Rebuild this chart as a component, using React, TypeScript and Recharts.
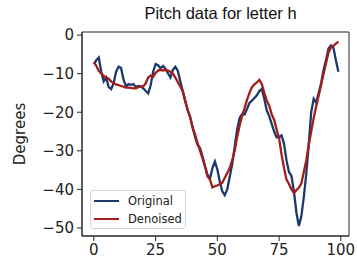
import { Line, LineChart, XAxis, YAxis, ReferenceArea } from "recharts"

const original = [
  -7.5, -6.5, -5.8, -9.5, -12, -11, -13.5, -14, -12.5, -9.5,
  -8.2, -8.5, -11.5, -13.3, -12.7, -12.9, -12.7, -13.5, -13.2, -13.3,
  -13.8, -14.5, -15.1, -13, -9.5, -7.5, -7.8, -8.6, -8, -8.8,
  -9.9, -11, -9, -8.2, -9.3, -12, -14.5, -17.2, -19.5, -21.3,
  -24, -26.5, -28.5, -29.3, -31.5, -34, -36.2, -37.3, -34.5, -32.8,
  -34.8, -38, -40.5, -41.5, -40, -36.8, -33.5, -29, -24.5, -21.5,
  -20.5, -20.6, -19.2, -17.6, -17, -16.3, -15.6, -14.5, -14, -16.5,
  -19.5, -21, -23, -25, -26.5, -26.5, -26, -28.2, -32.5, -35.5,
  -36.5, -40.5, -46, -49.5, -47, -42, -36, -28.5, -20, -16.5,
  -17.5, -15, -12.5, -9, -6.5, -3.5, -2.7, -3.3, -6.5, -9.5,
]

const denoised = [
  -7, -8, -9.3, -10, -10.6, -11, -11.3, -12, -12.5, -12.8,
  -13, -13.2, -13.4, -13.6, -13.6, -13.7, -13.8, -13.8, -13.5, -13.3,
  -13.3, -12.5, -11, -10.5, -10.8, -9.8, -9.2, -9, -9.2, -9,
  -9.2, -9.5, -10, -11, -12.2, -13.3, -14.6, -17, -19.5, -21.3,
  -24, -25.8, -28, -30, -32, -34, -36.6, -37.5, -39.5, -39.2,
  -39, -38.6, -38.3, -37, -35.8, -34.5, -32.5, -30, -26.5, -23.5,
  -21, -19, -16.8, -15, -13.5, -12.8, -12.3, -11.6, -12.7, -15,
  -17, -18.3, -20.5, -22, -24.5, -26.8, -31, -34.5, -37.5, -38.6,
  -40, -40.9, -40.2, -39.6, -38.5, -35.5, -32.5, -28.5, -25, -21.5,
  -18.5, -15.8, -13, -10, -7.3, -4.5, -3.2, -2.8, -2.2, -1.7,
]

const xTicks = [0, 25, 50, 75, 100]
const yTicks = [0, -10, -20, -30, -40, -50]

const data = original.map((v, i) => ({ x: i, original: v, denoised: denoised[i] }))

const BLUE = "#1b3a6b"
const RED = "#a51d1a"
const AXIS = "#262626"
const X_DOMAIN = [-4.8, 103.3]
const Y_DOMAIN = [-52.1, 0.8]

const fmt = (v: number) => String(v).replace("-", "\u2212")

const series = [
  { name: "Original", color: BLUE },
  { name: "Denoised", color: RED },
]

const LegendBox = () => (
  <div
    style={{
      position: "absolute",
      left: 90,
      top: 190,
      width: 96,
      height: 39,
      border: "1px solid #d5d5d5",
      borderRadius: 3,
      background: "rgba(255,255,255,0.8)",
      fontFamily: "DejaVu Sans",
      fontSize: 11.5,
      color: "#222",
      boxSizing: "border-box",
      padding: "1px 0 0 3px",
    }}
  >
    {series.map((it) => (
      <div key={it.name} style={{ display: "flex", alignItems: "center", height: 18 }}>
        <div style={{ width: 25, height: 2, background: it.color, marginRight: 9 }} />
        <span>{it.name}</span>
      </div>
    ))}
  </div>
)

export default function App() {
  return (
    <div style={{ position: "absolute", left: 0, top: 0, width: 357, height: 269, background: "#fff" }}>
      <div
        style={{
          position: "absolute",
          left: 82,
          width: 277,
          top: 4,
          textAlign: "center",
          fontFamily: "Liberation Sans",
          fontSize: 16.5,
          color: "#111",
        }}
      >
        Pitch data for letter h
      </div>
      <LineChart width={357} height={269} data={data} margin={{ top: 32, right: 8, bottom: 0, left: 0 }}>
        <XAxis
          dataKey="x"
          type="number"
          domain={X_DOMAIN}
          ticks={xTicks}
          allowDataOverflow
          height={33}
          stroke={AXIS}
          tickSize={5}
          tickMargin={3}
          tick={{ fill: "#222", fontSize: 15, fontFamily: "DejaVu Sans" }}
        />
        <YAxis
          type="number"
          domain={Y_DOMAIN}
          ticks={yTicks}
          allowDataOverflow
          width={82}
          stroke={AXIS}
          tickSize={5}
          tickMargin={3}
          tickFormatter={fmt}
          tick={{ fill: "#222", fontSize: 15, fontFamily: "DejaVu Sans" }}
          label={{
            value: "Degrees",
            angle: -90,
            position: "insideLeft",
            offset: 20,
            style: { fill: "#222", fontSize: 15, fontFamily: "DejaVu Sans", textAnchor: "middle" },
          }}
        />
        <ReferenceArea
          x1={X_DOMAIN[0]}
          x2={X_DOMAIN[1]}
          y1={Y_DOMAIN[0]}
          y2={Y_DOMAIN[1]}
          fill="none"
          stroke={AXIS}
          strokeWidth={1}
          ifOverflow="visible"
        />
        <Line type="linear" dataKey="original" stroke={BLUE} strokeWidth={2.3} dot={false} isAnimationActive={false} />
        <Line type="linear" dataKey="denoised" stroke={RED} strokeWidth={2.3} dot={false} isAnimationActive={false} />
      </LineChart>
      <LegendBox />
    </div>
  )
}
